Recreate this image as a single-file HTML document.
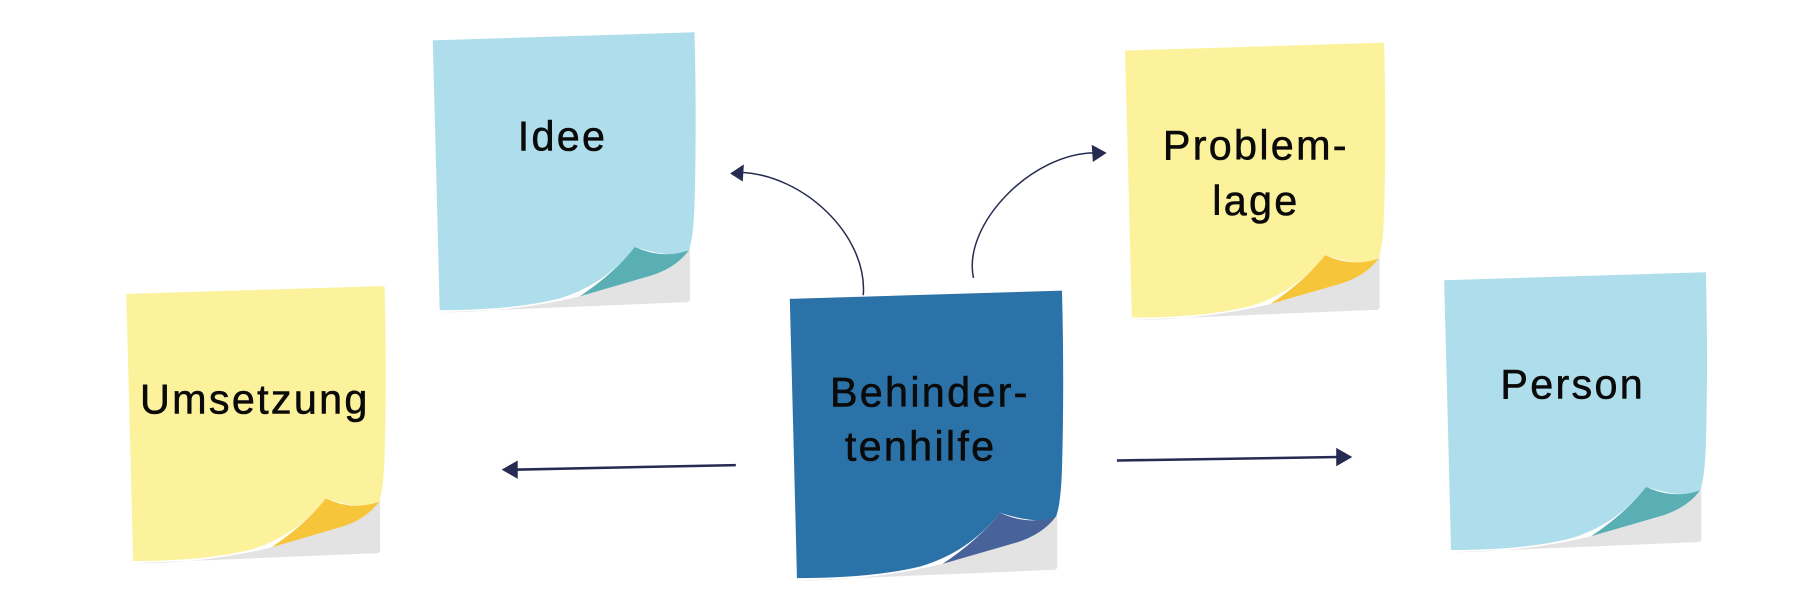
<!DOCTYPE html>
<html><head><meta charset="utf-8"><style>
html,body{margin:0;padding:0;background:#fff;}
svg{display:block;}
text{font-family:"Liberation Sans",sans-serif;font-size:36px;fill:#0a0a0a;stroke:#0a0a0a;stroke-width:0.5px;text-anchor:middle;letter-spacing:2px;}
</style></head><body>
<svg width="1800" height="603" viewBox="0 0 1568 525" xmlns="http://www.w3.org/2000/svg">
<defs>
<g id="shadow"><path d="M6,244 L222,235 Q225,234 224,230 L224,170 L190,212 L128,230 Q70,244 6,244 Z" fill="#e3e3e3"/></g>
</defs>

<!-- Idee -->
<g transform="translate(377,28)">
<use href="#shadow"/>
<path d="M0,7 L228,0 Q230,80 228,150 Q227,180 223,190 Q210,198 176,187 Q150,220 110,232 Q70,242 6,242 Q3,120 0,7 Z" fill="#aedeeb"/>
<path d="M176,187 Q200,198 223,190 Q212,205 190,212 L128,230 Q158,210 176,187 Z" fill="#5aafb4"/>
</g>
<text x="490" y="131">Idee</text>

<!-- Umsetzung -->
<g transform="translate(110,249) scale(0.987,0.99)">
<use href="#shadow"/>
<path d="M0,7 L228,0 Q230,80 228,150 Q227,180 223,190 Q210,198 176,187 Q150,220 110,232 Q70,242 6,242 Q3,120 0,7 Z" fill="#fcf29c"/>
<path d="M176,187 Q200,198 223,190 Q212,205 190,212 L128,230 Q158,210 176,187 Z" fill="#f6c53a"/>
</g>
<text x="222" y="360">Umsetzung</text>

<!-- Behindertenhilfe -->
<g transform="translate(688,253) scale(1.04,1.035)">
<use href="#shadow"/>
<path d="M0,7 L228,0 Q230,80 228,150 Q227,180 223,190 Q210,198 176,187 Q150,220 110,232 Q70,242 6,242 Q3,120 0,7 Z" fill="#2b72a8"/>
<path d="M176,187 Q200,198 223,190 Q212,205 190,212 L128,230 Q158,210 176,187 Z" fill="#47639a"/>
</g>
<text x="810" y="354">Behinder-</text>
<text x="802" y="401">tenhilfe</text>

<!-- Problemlage -->
<g transform="translate(980,37) scale(0.99,0.99)">
<use href="#shadow"/>
<path d="M0,7 L228,0 Q230,80 228,150 Q227,180 223,190 Q210,198 176,187 Q150,220 110,232 Q70,242 6,242 Q3,120 0,7 Z" fill="#fcf29c"/>
<path d="M176,187 Q200,198 223,190 Q212,205 190,212 L128,230 Q158,210 176,187 Z" fill="#f6c53a"/>
</g>
<text x="1094" y="139">Problem-</text>
<text x="1094" y="187">lage</text>

<!-- Person -->
<g transform="translate(1258,237)">
<use href="#shadow"/>
<path d="M0,7 L228,0 Q230,80 228,150 Q227,180 223,190 Q210,198 176,187 Q150,220 110,232 Q70,242 6,242 Q3,120 0,7 Z" fill="#aedeeb"/>
<path d="M176,187 Q200,198 223,190 Q212,205 190,212 L128,230 Q158,210 176,187 Z" fill="#5aafb4"/>
</g>
<text x="1370" y="347">Person</text>

<!-- connectors -->
<g stroke="#262b52" fill="none">
<path d="M752,257 C756,205 700,152 645,150" stroke-width="1.3"/>
<path d="M848,242 C838,195 900,132 955,133" stroke-width="1.3"/>
<path d="M641,405 L448,409" stroke-width="2.2"/>
<path d="M973,401 L1166,398" stroke-width="2.2"/>
</g>
<g fill="#262b52">
<polygon points="636,151 648,143 647,158"/>
<polygon points="964,133 951,126 952,141"/>
<polygon points="437,409 451,401 451,417"/>
<polygon points="1178,398 1164,390 1164,406"/>
</g>
</svg>
</body></html>
